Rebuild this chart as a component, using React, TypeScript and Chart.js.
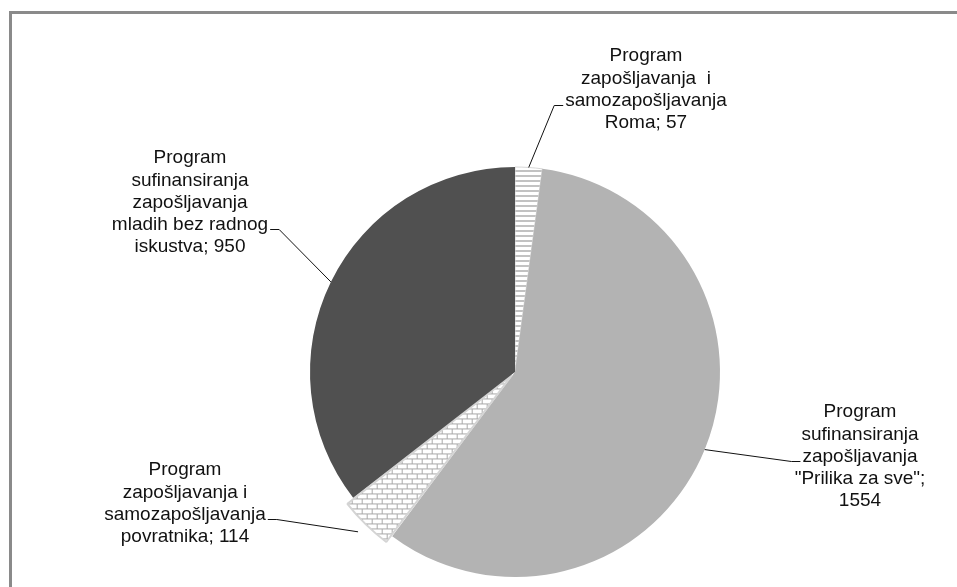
import React, { useEffect, useRef } from "react";
import { Chart, registerables } from "chart.js";

Chart.register(...registerables);

// ---- Data ----
const categories = [
  "Program zapošljavanja i samozapošljavanja Roma",
  'Program sufinansiranja zapošljavanja "Prilika za sve"',
  "Program zapošljavanja i samozapošljavanja povratnika",
  "Program sufinansiranja zapošljavanja mladih bez radnog iskustva",
];
const values = [57, 1554, 114, 950];
const labelLines = [
  ["Program", "zapošljavanja  i", "samozapošljavanja", "Roma; " + values[0]],
  ["Program", "sufinansiranja", "zapošljavanja", '"Prilika za sve";', String(values[1])],
  ["Program", "zapošljavanja i", "samozapošljavanja", "povratnika; " + values[2]],
  ["Program", "sufinansiranja", "zapošljavanja", "mladih bez radnog", "iskustva; " + values[3]],
];

// ---- Layout / style ----
const FONT = "19px 'Liberation Sans', Arial, sans-serif";
const LINE_H = 22.3;
const labelLayout = [
  { cx: 646, top: 56, anchor: 2, side: "left" },
  { cx: 860, top: 412, anchor: 2, side: "left" },
  { cx: 185, top: 470, anchor: 2, side: "right" },
  { cx: 190, top: 158, anchor: 3, side: "right" },
];

function makeStripes(): CanvasPattern | string {
  const c = document.createElement("canvas");
  c.width = 5;
  c.height = 5;
  const g = c.getContext("2d");
  if (!g) return "#ddd";
  g.fillStyle = "#ffffff";
  g.fillRect(0, 0, 5, 5);
  g.fillStyle = "#c2c2c2";
  g.fillRect(0, 0, 5, 2);
  return g.createPattern(c, "repeat") || "#ddd";
}

function makeBricks(): CanvasPattern | string {
  const c = document.createElement("canvas");
  c.width = 10;
  c.height = 10;
  const g = c.getContext("2d");
  if (!g) return "#ddd";
  g.fillStyle = "#ffffff";
  g.fillRect(0, 0, 10, 10);
  g.fillStyle = "#a9a9a9";
  g.fillRect(0, 0, 10, 1);
  g.fillRect(0, 5, 10, 1);
  g.fillRect(0, 1, 1, 4);
  g.fillRect(5, 6, 1, 4);
  return g.createPattern(c, "repeat") || "#ddd";
}

const labelPlugin = {
  id: "pieLabels",
  afterDatasetsDraw(chart: any) {
    const ctx = chart.ctx as CanvasRenderingContext2D;
    const meta = chart.getDatasetMeta(0);
    ctx.save();
    ctx.font = FONT;
    ctx.textAlign = "center";
    ctx.textBaseline = "middle";
    ctx.fillStyle = "#111111";
    ctx.strokeStyle = "#111111";
    ctx.lineWidth = 1;
    meta.data.forEach((arc: any, i: number) => {
      const p = arc.getProps(["x", "y", "startAngle", "endAngle", "outerRadius"], true);
      const off = (arc.options && arc.options.offset) || 0;
      const mid = (p.startAngle + p.endAngle) / 2;
      const r = p.outerRadius + off;
      const ax = p.x + Math.cos(mid) * r;
      const ay = p.y + Math.sin(mid) * r;
      const L = labelLayout[i];
      const lines = labelLines[i];
      lines.forEach((t, k) => ctx.fillText(t, L.cx, L.top + k * LINE_H));
      const w = ctx.measureText(lines[L.anchor]).width;
      const ly = Math.round(L.top + L.anchor * LINE_H + 4) + 0.5;
      const ex = L.side === "left" ? L.cx - w / 2 - 2 : L.cx + w / 2 + 2;
      const elbow = L.side === "left" ? ex - 9 : ex + 9;
      ctx.beginPath();
      ctx.moveTo(ex, ly);
      ctx.lineTo(elbow, ly);
      ctx.lineTo(ax, ay);
      ctx.stroke();
    });
    ctx.restore();
  },
};

export default function App() {
  const ref = useRef<HTMLCanvasElement | null>(null);
  useEffect(() => {
    if (!ref.current) return;
    const chart = new Chart(ref.current, {
      type: "pie",
      data: {
        labels: categories,
        datasets: [
          {
            data: values,
            backgroundColor: [makeStripes(), "#b3b3b3", makeBricks(), "#505050"],
            borderColor: ["#d6d6d6", "#b3b3b3", "#d4d4d4", "#505050"],
            borderWidth: [1, 0, 2, 0],
            offset: [0, 0, 19, 0],
            hoverOffset: 0,
          } as any,
        ],
      },
      options: {
        responsive: false,
        animation: false,
        devicePixelRatio: 1,
        radius: 205,
        layout: { padding: { left: 73, right: 0, top: 44, bottom: 0 } },
        plugins: {
          legend: { display: false },
          tooltip: { enabled: false },
        },
        events: [],
      } as any,
      plugins: [labelPlugin],
    });
    return () => chart.destroy();
  }, []);

  return (
    <div
      style={{
        position: "fixed",
        left: 0,
        top: 0,
        width: 957,
        height: 587,
        overflow: "hidden",
        background: "#ffffff",
      }}
    >
      <div
        style={{
          position: "absolute",
          left: 9,
          top: 11,
          width: 2000,
          height: 2000,
          borderLeft: "3px solid #8a8a8a",
          borderTop: "3px solid #8a8a8a",
        }}
      />
      <canvas
        ref={ref}
        width={957}
        height={700}
        style={{ position: "absolute", left: 0, top: 0, width: 957, height: 700 }}
      />
    </div>
  );
}
